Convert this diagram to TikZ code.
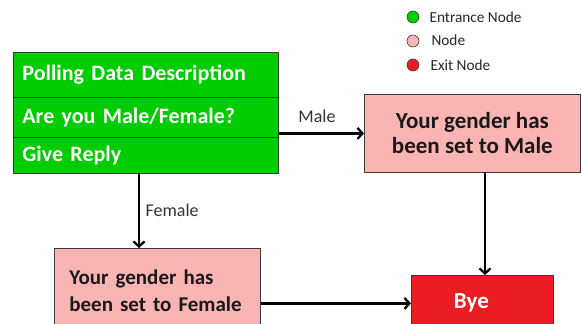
\documentclass[tikz,border=0pt]{standalone}
\usepackage{fontspec}
\setmainfont{Carlito}
\usetikzlibrary{arrows.meta}
\definecolor{entrygreen}{RGB}{0,204,0}
\definecolor{nodepink}{RGB}{250,180,180}
\definecolor{exitred}{RGB}{236,28,36}
\definecolor{edgegray}{RGB}{60,60,60}
\tikzset{
  row/.style={draw=edgegray, line width=0.8pt, fill=entrygreen, anchor=north west,
    minimum width=265pt, text width=247pt, inner xsep=9pt, align=left,
    font=\fontsize{22}{24}\selectfont\bfseries, text=white},
  statebox/.style={draw=edgegray, line width=0.8pt, fill=nodepink, anchor=north west,
    font=\bfseries, text=black!90},
  exitbox/.style={draw=edgegray, line width=0.8pt, fill=exitred, anchor=north west,
    font=\fontsize{23}{25}\selectfont\bfseries, text=white},
  flow/.style={line width=2.8pt, -{Straight Barb[length=5pt,width=11pt,line width=2.3pt]}},
  edgelabel/.style={font=\fontsize{18}{20}\selectfont, text=black!80},
  legenddot/.style={circle, draw=edgegray, line width=0.6pt, minimum size=12pt, inner sep=0pt},
  legendtext/.style={anchor=west, font=\fontsize{15.3}{17}\selectfont, text=black!85}
}
\begin{document}
\begin{tikzpicture}[x=1pt,y=-1pt]
  \useasboundingbox (0,0) rectangle (582,324);
  \clip (0,0) rectangle (582,324);

  % entrance block
  \node[row, minimum height=45pt] (r1) at (13,52) {Polling Data Description};
  \node[row, minimum height=40pt] (r2) at (13,97) {Are you Male/Female?};
  \node[row, minimum height=36pt] (r3) at (13,137) {Give Reply};

  % state nodes
  \node[statebox, minimum width=216pt, minimum height=78pt, align=center,
    font=\fontsize{23}{25}\selectfont\bfseries] (male) at (364,94)
    {Your gender has\\been set to Male};
  \node[statebox, minimum width=206pt, minimum height=84pt, text width=176pt, inner xsep=15pt,
    align=left, font=\fontsize{21}{27}\selectfont\bfseries] (female) at (54,248)
    {Your gender has\\been set to Female};
  \node[exitbox, minimum width=142pt, minimum height=56pt] (bye) at (411,275) {};
  \node[font=\fontsize{23}{25}\selectfont\bfseries, text=white] (byetext) at ([xshift=-11pt,yshift=1pt]bye.center) {Bye};

  % connectors
  \draw[flow] (r2.east |- male.west) -- (male.west);
  \node[edgelabel] (lmale) at (317,116) {Male};

  \coordinate (fstart) at (139,173);
  \draw[flow] (fstart) -- (fstart |- female.north);
  \node[edgelabel, anchor=west] (lfemale) at (142,210) {Female};

  \coordinate (mstart) at (485,172);
  \draw[flow] (mstart) -- (mstart |- bye.north);
  \draw[flow] (female.east |- bye.west) -- (bye.west);

  % legend
  \node[legenddot, fill=entrygreen] (d1) at (413,17) {};
  \node[legenddot, fill=nodepink] (d2) at (413,41) {};
  \node[legenddot, fill=exitred] (d3) at (413,65) {};
  \node[legendtext] (t1) at (426,17) {Entrance Node};
  \node[legendtext] (t2) at (428,40) {Node};
  \node[legendtext] (t3) at (427,65) {Exit Node};
\end{tikzpicture}
\end{document}
